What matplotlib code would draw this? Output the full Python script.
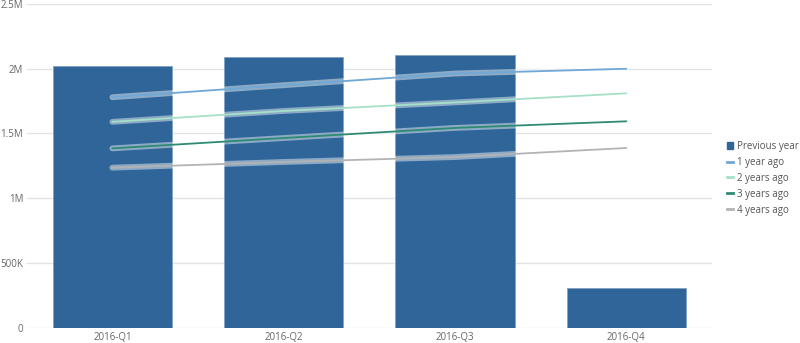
import matplotlib
matplotlib.use("Agg")
import matplotlib.pyplot as plt
import matplotlib.patheffects as pe
from matplotlib.ticker import FuncFormatter
from matplotlib.lines import Line2D
from matplotlib.patches import Patch

plt.rcParams['font.family'] = ['Open Sans', 'DejaVu Sans']

categories = ["2016-Q1", "2016-Q2", "2016-Q3", "2016-Q4"]
previous_year = [2.02e6, 2.09e6, 2.105e6, 0.307e6]
one_year_ago = [1.78e6, 1.873e6, 1.963e6, 2.0e6]
two_years_ago = [1.59e6, 1.674e6, 1.74e6, 1.81e6]
three_years_ago = [1.385e6, 1.465e6, 1.543e6, 1.594e6]
four_years_ago = [1.236e6, 1.28e6, 1.318e6, 1.388e6]

line_series = [
    ("1 year ago", one_year_ago, "#6fa8d6"),
    ("2 years ago", two_years_ago, "#a6e0c6"),
    ("3 years ago", three_years_ago, "#2e8a72"),
    ("4 years ago", four_years_ago, "#b3b3b3"),
]
bar_color = "#2f6598"

fig = plt.figure(figsize=(8, 3.43), dpi=100)
ax = fig.add_axes([0.0334, 0.0446, 0.8566, 0.9437])

x = list(range(len(categories)))
ax.bar(x, previous_year, width=0.695, color=bar_color, edgecolor="#7fa3c6",
       linewidth=0.6, zorder=2)

for name, vals, col in line_series:
    ax.plot(x, vals, color=col, linewidth=1.3, zorder=3, solid_capstyle='round',
            path_effects=[pe.Stroke(linewidth=4.2, foreground='white', alpha=0.45),
                          pe.Normal()])

ax.set_xlim(-0.5, 3.5)
ax.set_ylim(0, 2.5e6)
ax.set_yticks([0, 0.5e6, 1e6, 1.5e6, 2e6, 2.5e6])

def fmt(v, pos):
    if v == 0:
        return "0"
    if v >= 1e6:
        s = f"{v/1e6:.1f}".rstrip('0').rstrip('.')
        return s + "M"
    return f"{int(v/1e3)}K"

ax.yaxis.set_major_formatter(FuncFormatter(fmt))
ax.set_xticks(x)
ax.set_xticklabels(categories)
ax.grid(axis='y', color="#e3e3e3", linewidth=1, zorder=0)
ax.set_axisbelow(True)
for s in ax.spines.values():
    s.set_visible(False)
ax.tick_params(axis='both', length=0, labelsize=7, colors="#666666")
ax.tick_params(axis='y', pad=2.5)
ax.tick_params(axis='x', pad=3)

handles = [Patch(facecolor=bar_color, edgecolor=bar_color, label="Previous year")]
for name, vals, col in line_series:
    handles.append(Line2D([0], [0], color=col, linewidth=2, label=name))
leg = fig.legend(handles=handles, loc='center left', bbox_to_anchor=(0.909, 0.48),
                 frameon=False, fontsize=7, handlelength=0.6, handleheight=0.7,
                 handletextpad=0.45, labelspacing=0.5, labelcolor="#555555",
                 borderpad=0, borderaxespad=0)

fig.savefig("out.png", dpi=100)
